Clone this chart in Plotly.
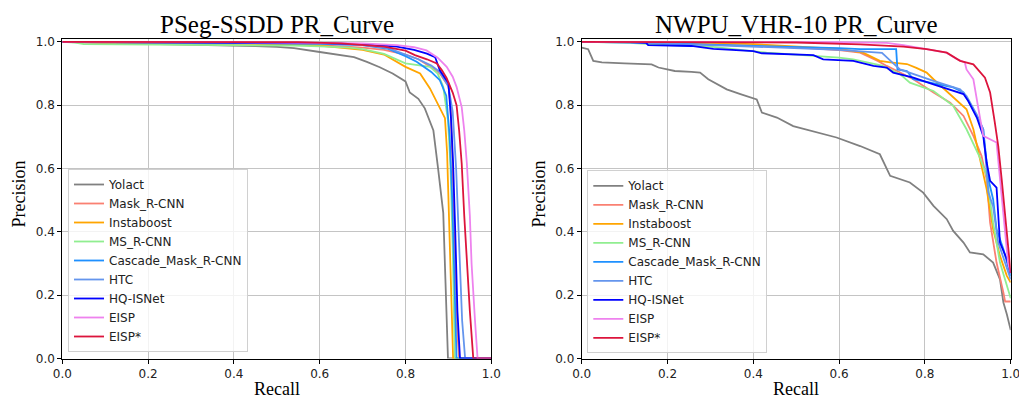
import plotly.graph_objects as go

W, H = 1019, 399

names = ["Yolact", "Mask_R-CNN", "Instaboost", "MS_R-CNN", "Cascade_Mask_R-CNN",
         "HTC", "HQ-ISNet", "EISP", "EISP*"]
colors = ["#808080", "#FA8072", "#FFA500", "#90EE90", "#1E90FF",
          "#6495ED", "#0000FF", "#EE82EE", "#DC143C"]
tick_vals = [0.0, 0.2, 0.4, 0.6, 0.8, 1.0]
tick_text = ["0.0", "0.2", "0.4", "0.6", "0.8", "1.0"]
titles = ["PSeg-SSDD PR_Curve", "NWPU_VHR-10 PR_Curve"]

# ---------------- PSeg-SSDD (left) ----------------
ssdd_yolact_x = [0, 0.05, 0.1, 0.2, 0.3, 0.4, 0.45, 0.5, 0.54, 0.6, 0.64, 0.68, 0.71, 0.74, 0.77, 0.79, 0.80, 0.81, 0.83, 0.845, 0.857, 0.865, 0.876, 0.882, 0.888, 0.893, 0.899, 1.0]
ssdd_yolact_y = [1.0, 0.997, 0.996, 0.994, 0.992, 0.989, 0.987, 0.984, 0.98, 0.968, 0.96, 0.952, 0.937, 0.92, 0.9, 0.885, 0.875, 0.84, 0.82, 0.79, 0.745, 0.72, 0.6, 0.53, 0.46, 0.25, 0.0, 0.0]
ssdd_mask_x = [0, 0.1, 0.3, 0.5, 0.6, 0.7, 0.75, 0.8, 0.83, 0.86, 0.88, 0.9, 0.905, 0.91, 0.915, 0.92, 0.925, 1.0]
ssdd_mask_y = [1.0, 0.998, 0.997, 0.994, 0.99, 0.982, 0.975, 0.96, 0.945, 0.92, 0.9, 0.86, 0.8, 0.6, 0.3, 0.1, 0.0, 0.0]
ssdd_insta_x = [0, 0.1, 0.3, 0.5, 0.6, 0.7, 0.75, 0.8, 0.834, 0.857, 0.88, 0.892, 0.897, 0.903, 0.908, 0.911, 1.0]
ssdd_insta_y = [1.0, 0.998, 0.996, 0.993, 0.988, 0.975, 0.96, 0.921, 0.9, 0.853, 0.79, 0.759, 0.65, 0.4, 0.15, 0.0, 0.0]
ssdd_ms_x = [0, 0.03, 0.05, 0.2, 0.4, 0.54, 0.6, 0.67, 0.7, 0.75, 0.8, 0.857, 0.875, 0.888, 0.899, 0.905, 0.91, 0.915, 1.0]
ssdd_ms_y = [1.0, 0.998, 0.993, 0.992, 0.99, 0.988, 0.986, 0.982, 0.977, 0.962, 0.932, 0.921, 0.9, 0.858, 0.752, 0.6, 0.35, 0.0, 0.0]
ssdd_cascade_x = [0, 0.2, 0.4, 0.6, 0.7, 0.76, 0.8, 0.826, 0.86, 0.88, 0.895, 0.903, 0.909, 0.914, 0.919, 1.0]
ssdd_cascade_y = [1.0, 0.999, 0.997, 0.994, 0.99, 0.978, 0.955, 0.937, 0.905, 0.879, 0.83, 0.7, 0.5, 0.25, 0.0, 0.0]
ssdd_htc_x = [0, 0.2, 0.4, 0.6, 0.7, 0.76, 0.8, 0.83, 0.86, 0.88, 0.9, 0.91, 0.918, 0.925, 0.932, 0.939, 1.0]
ssdd_htc_y = [1.0, 0.999, 0.998, 0.995, 0.99, 0.98, 0.96, 0.945, 0.925, 0.905, 0.86, 0.78, 0.6, 0.35, 0.12, 0.0, 0.0]
ssdd_hq_x = [0, 0.2, 0.4, 0.6, 0.7, 0.78, 0.82, 0.85, 0.869, 0.88, 0.89, 0.9, 0.906, 0.911, 0.916, 0.921, 0.927, 1.0]
ssdd_hq_y = [1.0, 0.999, 0.998, 0.996, 0.993, 0.985, 0.975, 0.963, 0.952, 0.91, 0.89, 0.87, 0.76, 0.616, 0.4, 0.15, 0.0, 0.0]
ssdd_eisp_x = [0, 0.2, 0.4, 0.6, 0.7, 0.78, 0.82, 0.849, 0.875, 0.896, 0.91, 0.919, 0.931, 0.937, 0.943, 0.95, 0.954, 0.962, 0.968, 1.0]
ssdd_eisp_y = [1.0, 1.0, 0.999, 0.997, 0.995, 0.99, 0.983, 0.973, 0.95, 0.921, 0.89, 0.858, 0.794, 0.72, 0.616, 0.45, 0.3, 0.12, 0.0, 0.0]
ssdd_eisps_x = [0, 0.2, 0.4, 0.55, 0.65, 0.75, 0.8, 0.822, 0.85, 0.873, 0.885, 0.896, 0.91, 0.919, 0.925, 0.931, 0.937, 0.943, 0.95, 0.958, 1.0]
ssdd_eisps_y = [1.0, 1.0, 1.0, 0.999, 0.995, 0.985, 0.972, 0.958, 0.945, 0.932, 0.91, 0.885, 0.84, 0.8, 0.72, 0.616, 0.45, 0.3, 0.15, 0.0, 0.0]

# ---------------- NWPU_VHR-10 (right) ----------------
nwpu_yolact_x = [0, 0.015, 0.027, 0.047, 0.1, 0.163, 0.179, 0.217, 0.256, 0.276, 0.295, 0.338, 0.37, 0.4, 0.408, 0.42, 0.455, 0.493, 0.548, 0.594, 0.649, 0.695, 0.719, 0.765, 0.796, 0.82, 0.851, 0.866, 0.89, 0.905, 0.936, 0.959, 0.975, 0.983, 0.991, 1.0]
nwpu_yolact_y = [0.982, 0.977, 0.94, 0.935, 0.932, 0.929, 0.919, 0.908, 0.905, 0.903, 0.882, 0.85, 0.835, 0.82, 0.818, 0.777, 0.761, 0.734, 0.714, 0.698, 0.671, 0.645, 0.577, 0.556, 0.524, 0.482, 0.44, 0.403, 0.366, 0.335, 0.329, 0.303, 0.25, 0.177, 0.14, 0.09]
nwpu_mask_x = [0, 0.1, 0.2, 0.3, 0.4, 0.509, 0.6, 0.649, 0.69, 0.711, 0.74, 0.773, 0.82, 0.859, 0.89, 0.913, 0.932, 0.944, 0.952, 0.967, 0.983, 0.987, 1.0]
nwpu_mask_y = [1.0, 1.0, 0.997, 0.992, 0.988, 0.982, 0.974, 0.966, 0.94, 0.924, 0.905, 0.882, 0.84, 0.808, 0.766, 0.703, 0.64, 0.566, 0.429, 0.303, 0.208, 0.18, 0.18]
nwpu_insta_x = [0, 0.2, 0.3, 0.4, 0.5, 0.6, 0.656, 0.695, 0.719, 0.758, 0.78, 0.804, 0.82, 0.859, 0.897, 0.913, 0.928, 0.944, 0.959, 0.975, 0.991, 1.0]
nwpu_insta_y = [1.0, 0.999, 0.997, 0.993, 0.985, 0.978, 0.966, 0.94, 0.935, 0.93, 0.918, 0.903, 0.882, 0.835, 0.787, 0.724, 0.629, 0.534, 0.408, 0.324, 0.261, 0.24]
nwpu_ms_x = [0, 0.1, 0.2, 0.3, 0.431, 0.5, 0.6, 0.633, 0.7, 0.742, 0.765, 0.82, 0.866, 0.897, 0.928, 0.944, 0.959, 0.975, 1.0]
nwpu_ms_y = [1.0, 0.998, 0.99, 0.985, 0.966, 0.96, 0.95, 0.945, 0.925, 0.898, 0.871, 0.845, 0.798, 0.724, 0.635, 0.577, 0.429, 0.303, 0.19]
nwpu_cascade_x = [0, 0.15, 0.276, 0.4, 0.5, 0.6, 0.649, 0.7, 0.733, 0.736, 0.758, 0.773, 0.82, 0.866, 0.89, 0.913, 0.936, 0.948, 0.959, 0.967, 0.983, 1.0]
nwpu_cascade_y = [1.0, 0.998, 0.992, 0.988, 0.985, 0.98, 0.977, 0.977, 0.977, 0.913, 0.908, 0.882, 0.87, 0.856, 0.84, 0.787, 0.724, 0.566, 0.503, 0.408, 0.345, 0.26]
nwpu_htc_x = [0, 0.15, 0.3, 0.4, 0.5, 0.6, 0.65, 0.7, 0.72, 0.742, 0.82, 0.882, 0.897, 0.921, 0.936, 0.948, 0.959, 0.971, 1.0]
nwpu_htc_y = [1.0, 0.997, 0.99, 0.985, 0.98, 0.975, 0.97, 0.965, 0.94, 0.913, 0.877, 0.85, 0.829, 0.77, 0.724, 0.524, 0.48, 0.366, 0.25]
nwpu_hq_x = [0, 0.1, 0.15, 0.155, 0.256, 0.307, 0.35, 0.4, 0.42, 0.493, 0.54, 0.563, 0.633, 0.68, 0.711, 0.726, 0.773, 0.82, 0.859, 0.89, 0.901, 0.921, 0.936, 0.944, 0.952, 0.967, 0.975, 0.991, 1.0]
nwpu_hq_y = [1.0, 1.0, 0.997, 0.99, 0.987, 0.978, 0.975, 0.971, 0.964, 0.961, 0.958, 0.945, 0.94, 0.924, 0.919, 0.903, 0.887, 0.866, 0.85, 0.835, 0.813, 0.761, 0.703, 0.619, 0.561, 0.54, 0.366, 0.314, 0.27]
nwpu_eisp_x = [0, 0.3, 0.5, 0.6, 0.711, 0.75, 0.8, 0.85, 0.874, 0.893, 0.897, 0.913, 0.925, 0.936, 0.967, 0.98, 0.994, 1.0]
nwpu_eisp_y = [1.0, 1.0, 0.999, 0.999, 0.997, 0.99, 0.978, 0.966, 0.946, 0.935, 0.913, 0.882, 0.787, 0.703, 0.682, 0.5, 0.3, 0.27]
nwpu_eisps_x = [0, 0.3, 0.5, 0.649, 0.75, 0.804, 0.851, 0.882, 0.913, 0.94, 0.952, 0.963, 0.971, 0.979, 0.987, 0.994, 1.0]
nwpu_eisps_y = [1.0, 1.0, 0.998, 0.992, 0.985, 0.977, 0.966, 0.94, 0.929, 0.887, 0.84, 0.745, 0.671, 0.566, 0.45, 0.335, 0.27]

ssdd = [(ssdd_yolact_x, ssdd_yolact_y), (ssdd_mask_x, ssdd_mask_y), (ssdd_insta_x, ssdd_insta_y),
        (ssdd_ms_x, ssdd_ms_y), (ssdd_cascade_x, ssdd_cascade_y), (ssdd_htc_x, ssdd_htc_y),
        (ssdd_hq_x, ssdd_hq_y), (ssdd_eisp_x, ssdd_eisp_y), (ssdd_eisps_x, ssdd_eisps_y)]
nwpu = [(nwpu_yolact_x, nwpu_yolact_y), (nwpu_mask_x, nwpu_mask_y), (nwpu_insta_x, nwpu_insta_y),
        (nwpu_ms_x, nwpu_ms_y), (nwpu_cascade_x, nwpu_cascade_y), (nwpu_htc_x, nwpu_htc_y),
        (nwpu_hq_x, nwpu_hq_y), (nwpu_eisp_x, nwpu_eisp_y), (nwpu_eisps_x, nwpu_eisps_y)]

fig = go.Figure()
for panel, (data, xa, ya, lg) in enumerate([(ssdd, "x", "y", "legend"), (nwpu, "x2", "y2", "legend2")]):
    for name, color, (xs, ys) in zip(names, colors, data):
        fig.add_trace(go.Scatter(x=xs, y=ys, mode="lines", name=name,
                                 line=dict(color=color, width=1.8),
                                 xaxis=xa, yaxis=ya, legend=lg))

# pixel geometry
def px_x(p):
    return p / W

def px_y(p):
    return 1 - p / H

x_doms = [[px_x(62.3), px_x(491.3)], [px_x(581.7), px_x(1010.7)]]
y_dom = [px_y(358.5), px_y(38.7)]

axis_common = dict(range=[0, 1], tickvals=tick_vals, ticktext=tick_text,
                   showline=True, linecolor="black", linewidth=1, mirror=True,
                   ticks="outside", ticklen=4, tickcolor="black", tickwidth=1,
                   showgrid=True, gridcolor="#c4c4c4", gridwidth=1.2, zeroline=False,
                   automargin=False, ticklabeloverflow="allow",
                   tickfont=dict(family="DejaVu Sans", size=12, color="#222222"))
yaxis_common = dict(axis_common)
yaxis_common["range"] = [0, 1.01]

legend_common = dict(xanchor="left", yanchor="bottom", bgcolor="rgba(255,255,255,0.8)",
                     bordercolor="#d0d0d0", borderwidth=1,
                     font=dict(family="DejaVu Sans", size=12, color="#222222"),
                     tracegroupgap=0, itemwidth=30)

fig.update_layout(
    width=W, height=H, margin=dict(l=0, r=0, t=0, b=0, autoexpand=False),
    plot_bgcolor="white", paper_bgcolor="white",
    xaxis=dict(axis_common, domain=x_doms[0], anchor="y"),
    yaxis=dict(yaxis_common, domain=y_dom, anchor="x"),
    xaxis2=dict(axis_common, domain=x_doms[1], anchor="y2"),
    yaxis2=dict(yaxis_common, domain=y_dom, anchor="x2"),
    legend=dict(legend_common, x=px_x(68), y=px_y(352)),
    legend2=dict(legend_common, x=px_x(587.3), y=px_y(353.3)),
    showlegend=True,
)

serif = "Liberation Serif"
annotations = []
for i, t in enumerate(titles):
    cx = (x_doms[i][0] + x_doms[i][1]) / 2
    annotations.append(dict(text=t, x=cx, y=px_y(24), xref="paper", yref="paper",
                            xanchor="center", yanchor="middle", showarrow=False,
                            font=dict(family=serif, size=25, color="black")))
    annotations.append(dict(text="Recall", x=cx, y=px_y(389), xref="paper", yref="paper",
                            xanchor="center", yanchor="middle", showarrow=False,
                            font=dict(family=serif, size=18, color="black")))
ylab_x = [18.5, 538.5]
for i in range(2):
    annotations.append(dict(text="Precision", x=px_x(ylab_x[i]), y=px_y(194), xref="paper", yref="paper",
                            xanchor="center", yanchor="middle", showarrow=False, textangle=-90,
                            font=dict(family=serif, size=18, color="black")))
fig.update_layout(annotations=annotations)

fig.write_html("out.html", config={"displayModeBar": False},
               post_script="document.body.style.margin='0';document.body.style.padding='0';"
                           "document.documentElement.style.overflow='hidden';")
